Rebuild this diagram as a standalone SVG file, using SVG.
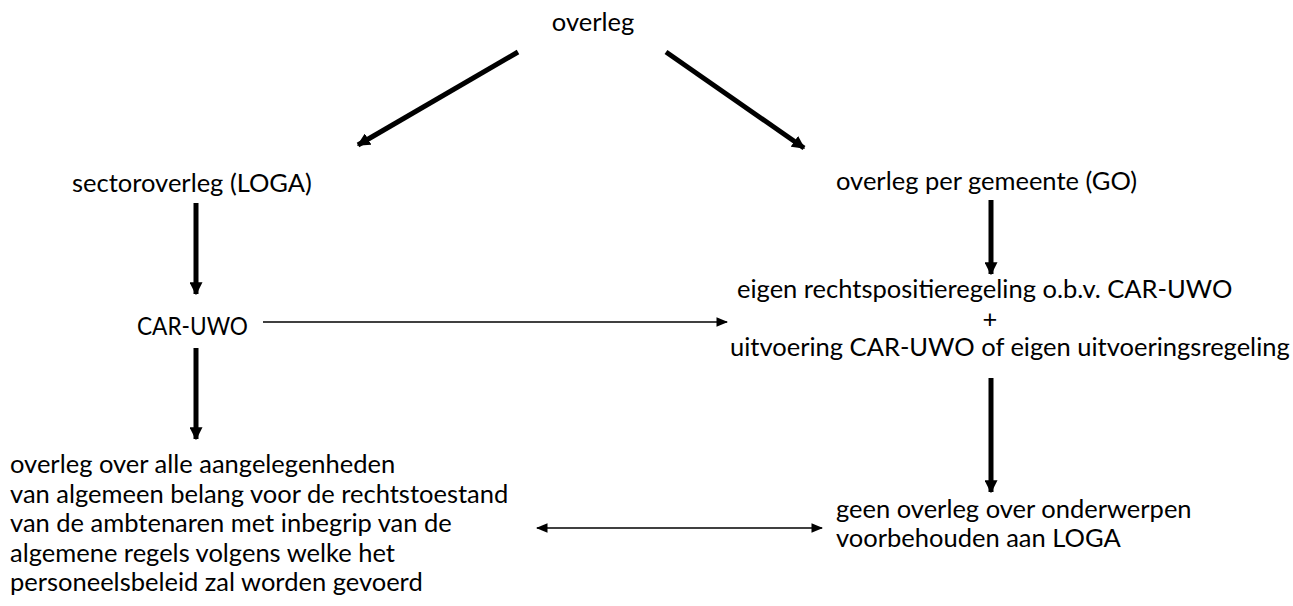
<svg xmlns="http://www.w3.org/2000/svg" width="1293" height="606" viewBox="0 0 1293 606">
<defs>
<style>
text{font-family:Lato,"Open Sans","Liberation Sans",sans-serif;font-size:25.5px;fill:#000}
.thick{stroke:#000;stroke-width:5;fill:none}
.thin{stroke:#000;stroke-width:1.3;fill:none}
</style>
<marker id="ah" viewBox="0 0 10 10" refX="9" refY="5" markerWidth="2.6" markerHeight="2.6" orient="auto" markerUnits="strokeWidth"><path d="M0,0 L10,5 L0,10 Z" fill="#000"/></marker>
<marker id="ahs" viewBox="0 0 10 10" refX="9" refY="5" markerWidth="9" markerHeight="9" orient="auto-start-reverse" markerUnits="strokeWidth"><path d="M0,1 L10,5 L0,9 Z" fill="#000"/></marker>
</defs>
<rect width="1293" height="606" fill="#fff"/>
<g id="n-overleg"><text x="593" y="31" text-anchor="middle">overleg</text></g>
<g id="n-sector"><text x="72" y="192">sectoroverleg (LOGA)</text></g>
<g id="n-caruwo"><text x="137" y="335" textLength="111" lengthAdjust="spacingAndGlyphs">CAR-UWO</text></g>
<g id="n-left"><text x="10" y="473">overleg over alle aangelegenheden</text><text x="10" y="503">van algemeen belang voor de rechtstoestand</text><text x="10" y="532">van de ambtenaren met inbegrip van de</text><text x="10" y="562">algemene regels volgens welke het</text><text x="10" y="591">personeelsbeleid zal worden gevoerd</text></g>
<g id="n-go"><text x="836" y="190">overleg per gemeente (GO)</text></g>
<g id="n-eigen"><text x="737" y="298">eigen rechtspositieregeling o.b.v. CAR-UWO</text><text x="990" y="328" text-anchor="middle">+</text><text x="730" y="356">uitvoering CAR-UWO of eigen uitvoeringsregeling</text></g>
<g id="n-geen"><text x="836" y="518">geen overleg over onderwerpen</text><text x="836" y="547">voorbehouden aan LOGA</text></g>
<g id="connectors">
<line class="thick" x1="518" y1="52" x2="358" y2="145" marker-end="url(#ah)"/>
<line class="thick" x1="666" y1="52" x2="804" y2="148" marker-end="url(#ah)"/>
<line class="thick" x1="196" y1="203" x2="196" y2="294" marker-end="url(#ah)"/>
<line class="thick" x1="196" y1="348" x2="196" y2="439" marker-end="url(#ah)"/>
<line class="thick" x1="991" y1="200" x2="991" y2="274" marker-end="url(#ah)"/>
<line class="thick" x1="991" y1="378" x2="991" y2="492" marker-end="url(#ah)"/>
<line class="thin" x1="263" y1="322" x2="727" y2="322" marker-end="url(#ahs)"/>
<line class="thin" x1="537" y1="528" x2="822" y2="528" marker-start="url(#ahs)" marker-end="url(#ahs)"/>
</g>
</svg>
